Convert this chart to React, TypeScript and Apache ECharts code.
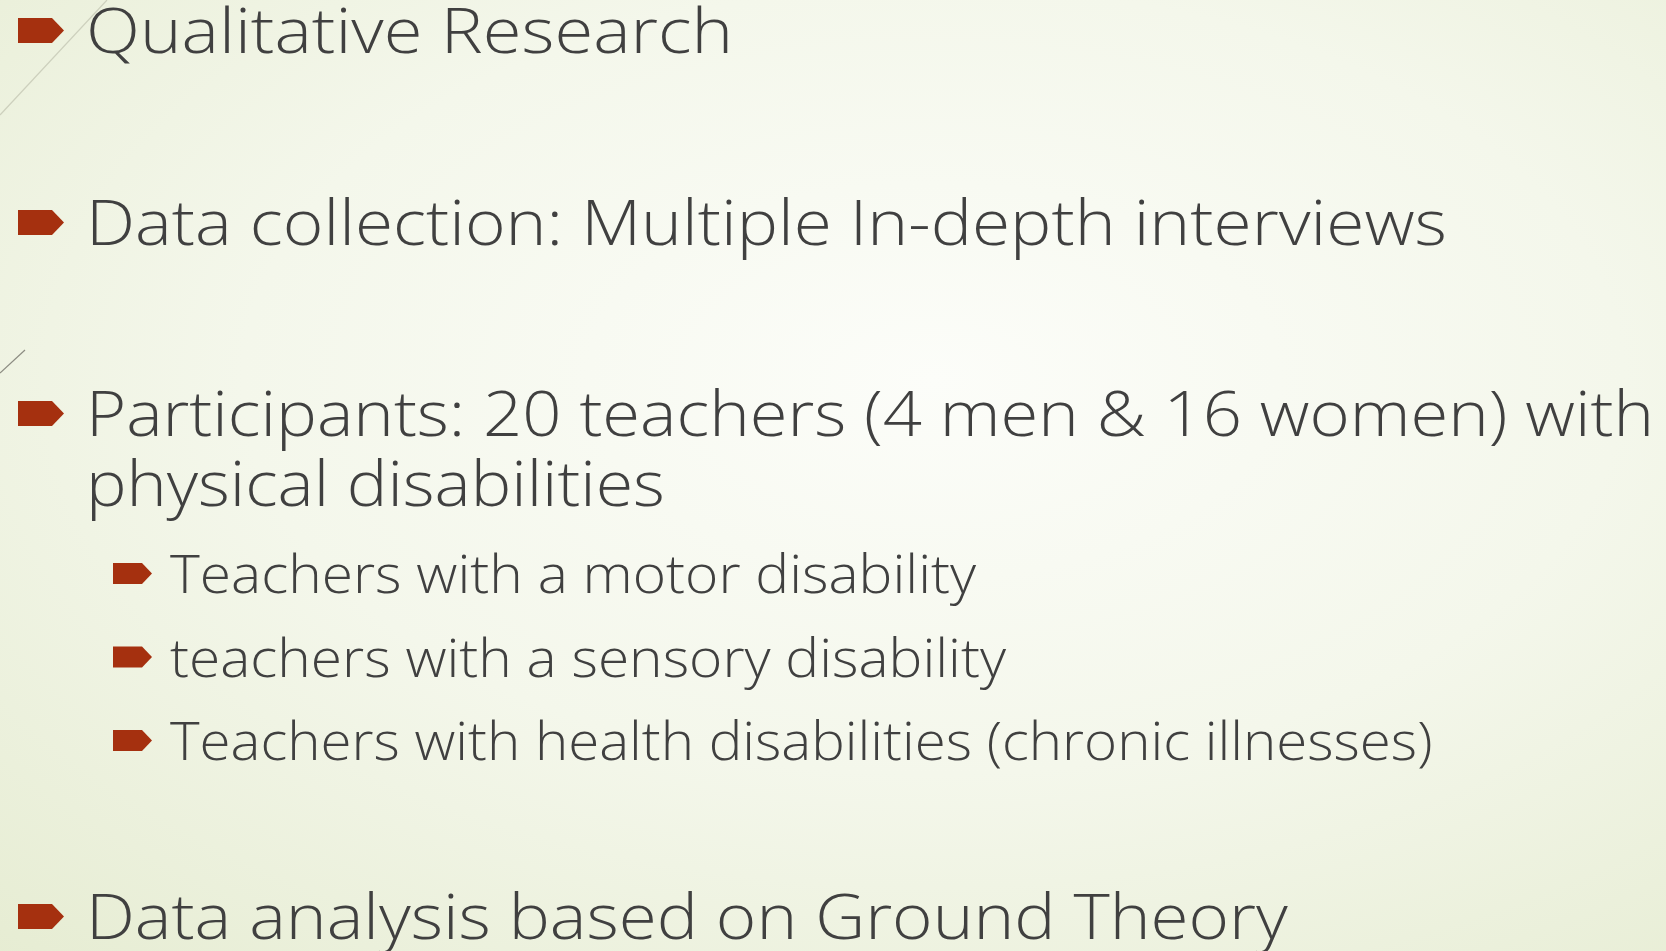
import React, { useEffect, useRef } from 'react';
import * as echarts from 'echarts';

// ---- content ----
const mainBullets = [
  'Qualitative Research',
  'Data collection: Multiple In-depth interviews',
  'Participants: 20 teachers (4 men & 16 women) with',
  'Data analysis based on Ground Theory',
];
const continuationLine = 'physical disabilities';
const subBullets = [
  'Teachers with a motor disability',
  'teachers with a sensory disability',
  'Teachers with health disabilities (chronic illnesses)',
];

// ---- layout ----
const W = 1666;
const H = 951;
const FAMILY = '"Open Sans", "DejaVu Sans", sans-serif';
const WEIGHT = 300;
const MAIN_FS = 63;
const SUB_FS = 53;
const MAIN_X = 86;
const SUB_X = 170;
const mainBaselines = [53, 245, 436, 939];
const mainRights = [731, 1445, 1652, 1286];
const contBaseline = 506;
const contRight = 663;
const subBaselines = [593, 676.5, 760];
const subRights = [974, 1004, 1431];
const TEXT_COLOR = '#404040';
const BULLET_COLOR = '#a5300f';

let measureCtx: CanvasRenderingContext2D | null = null;
function measure(text: string, fs: number): number {
  if (!measureCtx) measureCtx = document.createElement('canvas').getContext('2d');
  measureCtx!.font = `${WEIGHT} ${fs}px ${FAMILY}`;
  return measureCtx!.measureText(text).width;
}

function textEl(text: string, x: number, baseline: number, right: number, fs: number) {
  const w = measure(text, fs);
  const sx = (right + 2 - x) / w;
  return {
    type: 'text',
    x,
    y: baseline - 0.388 * fs,
    scaleX: sx,
    scaleY: 1,
    silent: true,
    style: {
      text,
      fill: TEXT_COLOR,
      fontSize: fs,
      fontFamily: FAMILY,
      fontWeight: WEIGHT,
      lineHeight: Math.round(fs * 0.8),
      align: 'left',
      verticalAlign: 'middle',
    },
  };
}

function bulletEl(x: number, cy: number, w: number, h: number, tip: number) {
  return {
    type: 'polygon',
    silent: true,
    shape: {
      points: [
        [x, cy - h / 2],
        [x + w - tip, cy - h / 2],
        [x + w, cy],
        [x + w - tip, cy + h / 2],
        [x, cy + h / 2],
      ],
    },
    style: { fill: BULLET_COLOR },
  };
}

export default function App() {
  const ref = useRef<HTMLDivElement>(null);
  useEffect(() => {
    if (!ref.current) return;
    const chart = echarts.init(ref.current, null, { renderer: 'svg' });
    const elements: any[] = [];
    elements.push({
      type: 'rect',
      silent: true,
      shape: { x: 0, y: 0, width: W, height: H },
      style: {
        fill: new echarts.graphic.RadialGradient(0.56, 0.4, 0.92, [
          { offset: 0, color: '#fcfdf9' },
          { offset: 0.45, color: '#f4f7eb' },
          { offset: 1, color: '#e3eacd' },
        ]),
      },
    });
    elements.push({
      type: 'line',
      silent: true,
      shape: { x1: 107, y1: 0, x2: 0, y2: 115 },
      style: { stroke: '#cdd0bd', lineWidth: 1.2 },
    });
    elements.push({
      type: 'line',
      silent: true,
      shape: { x1: 25, y1: 350, x2: 0, y2: 373 },
      style: { stroke: '#8c8c82', lineWidth: 1.2 },
    });
    mainBullets.forEach((t, i) => {
      const b = mainBaselines[i];
      elements.push(bulletEl(18, b - 22.5, 46, 25, 12));
      elements.push(textEl(t, MAIN_X, b, mainRights[i], MAIN_FS));
    });
    elements.push(textEl(continuationLine, MAIN_X, contBaseline, contRight, MAIN_FS));
    subBullets.forEach((t, i) => {
      const b = subBaselines[i];
      elements.push(bulletEl(113, b - 19.5, 39, 21, 10));
      elements.push(textEl(t, SUB_X, b, subRights[i], SUB_FS));
    });
    chart.setOption({ animation: false, graphic: { elements } });
    return () => chart.dispose();
  }, []);
  return (
    <div
      ref={ref}
      style={{ position: 'absolute', left: 0, top: 0, width: W, height: H }}
    />
  );
}
